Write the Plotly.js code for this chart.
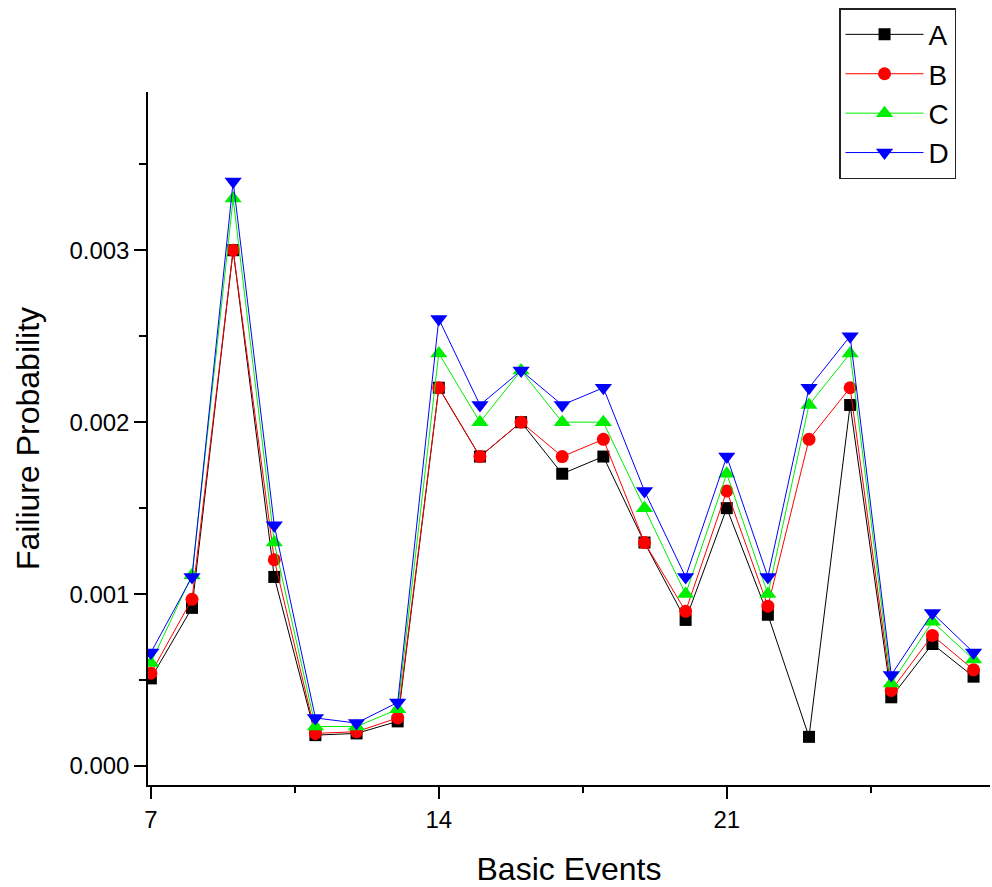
<!DOCTYPE html>
<html><head><meta charset="utf-8">
<script src="https://cdn.plot.ly/plotly-3.0.1.min.js"></script>
<style>body{margin:0;background:#fff}#chart{width:992px;height:887px}</style>
</head><body><div id="chart"></div>
<script>
const events = [7,8,9,10,11,12,13,14,15,16,17,18,19,20,21,22,23,24,25,26,27];
const seriesA = [0.00051,0.00092,0.0030,0.0011,0.00018,0.00019,0.00026,0.0022,0.0018,0.0020,0.0017,0.0018,0.0013,0.00085,0.0015,0.00088,0.00017,0.0021,0.00040,0.00071,0.00052];
const seriesB = [0.00054,0.00097,0.0030,0.0012,0.00019,0.00020,0.00028,0.0022,0.0018,0.0020,0.0018,0.0019,0.0013,0.00090,0.0016,0.00093,0.0019,0.0022,0.00044,0.00076,0.00056];
const seriesC = [0.00060,0.00111,0.0033,0.0013,0.00023,0.00023,0.00033,0.0024,0.0020,0.0023,0.0020,0.0020,0.0015,0.00100,0.0017,0.00100,0.0021,0.0024,0.00048,0.00084,0.00062];
const seriesD = [0.00066,0.00110,0.0034,0.0014,0.00028,0.00025,0.00037,0.0026,0.0021,0.0023,0.0021,0.0022,0.0016,0.00110,0.0018,0.00110,0.0022,0.0025,0.00053,0.00089,0.00066];
const names = ['A','B','C','D'];
const colors = ['#000000','#ff0000','#00ee00','#0000ff'];
const symbols = ['square','circle','triangle-up','triangle-down'];
const sizes = [12,13,15,15];
const all = [seriesA, seriesB, seriesC, seriesD];
const traces = all.map((s,i)=>({
  x: events, y: s, name: names[i], type:'scatter', mode:'lines+markers',
  line:{color:colors[i], width:1},
  marker:{symbol:symbols[i], size:sizes[i], color:colors[i]}
}));
const font = 'Arial, "Liberation Sans", sans-serif';
const layout = {
  width:992, height:887,
  margin:{l:148, r:2, t:92, b:102},
  paper_bgcolor:'#fff', plot_bgcolor:'#fff',
  font:{family:font, color:'#000'},
  showlegend:true,
  legend:{x:0.8207, y:1.121, xanchor:'left', yanchor:'top',
    bordercolor:'#222', borderwidth:1.5, bgcolor:'#fff',
    font:{size:28, family:font}, tracegroupgap:0, itemwidth:78},
  xaxis:{range:[6.93,27.4], showgrid:false, zeroline:false,
    showline:true, linecolor:'#000', linewidth:1.5,
    ticks:'outside', tickvals:[7,14,21], ticklen:12, tickwidth:1.5, tickcolor:'#000',
    minor:{tickvals:[10.5,17.5,24.5], ticks:'outside', ticklen:6, tickwidth:1.5, tickcolor:'#000'},
    tickfont:{size:24}, title:{text:'Basic Events', font:{size:32}, standoff:26}},
  yaxis:{range:[-0.00011,0.00392], showgrid:false, zeroline:false,
    showline:true, linecolor:'#000', linewidth:1.5,
    ticks:'outside', tickvals:[0,0.001,0.002,0.003], ticktext:['0.000','0.001','0.002','0.003'],
    ticklen:12, tickwidth:1.5, tickcolor:'#000',
    minor:{tickvals:[0.0005,0.0015,0.0025,0.0035], ticks:'outside', ticklen:7, tickwidth:1.5, tickcolor:'#000'},
    tickfont:{size:24}, title:{text:'Failiure Probability', font:{size:32}, standoff:20}}
};
Plotly.newPlot('chart', traces, layout, {displayModeBar:false});
</script></body></html>
